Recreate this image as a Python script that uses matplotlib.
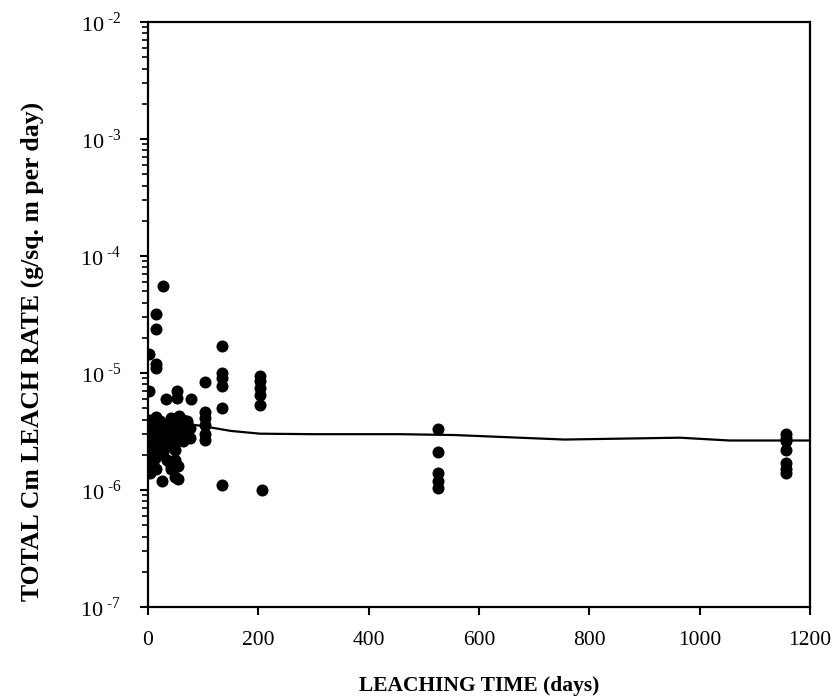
import math
import matplotlib
matplotlib.use("Agg")
import matplotlib.pyplot as plt
from matplotlib.ticker import LogLocator, FixedLocator, NullFormatter, FuncFormatter

plt.rcParams['font.family'] = ['Liberation Serif', 'DejaVu Serif']
plt.rcParams['mathtext.fontset'] = 'custom'
plt.rcParams['mathtext.rm'] = 'Liberation Serif'

# scatter data: leaching time (days) and leach rate (g/sq. m per day)
days = [
    1, 1, 1, 1, 1,
    3, 3, 3,
    7, 7, 7, 7, 9,
    14, 14, 14, 14, 14, 14, 14, 14, 14,
    21, 21, 21, 25,
    27, 28, 28, 28,
    33, 35, 35, 35, 35,
    42, 42, 42, 42, 42,
    49, 49, 49, 49, 49, 52, 52,
    54, 54, 56, 56, 56,
    63, 63, 63,
    70, 70, 70,
    77, 77, 78,
    103, 103, 103, 103, 103, 103,
    134, 134, 134, 134, 134, 134,
    203, 203, 203, 203, 203, 206,
    525, 525, 525, 525, 525,
    1157, 1157, 1157, 1157, 1157, 1157, 1157,
]
rate = [
    2.5e-6, 1.6e-6, 4.0e-6, 1.45e-5, 7.0e-6,
    3.3e-6, 2.0e-6, 1.4e-6,
    3.8e-6, 2.8e-6, 2.2e-6, 1.7e-6, 1.7e-6,
    4.2e-6, 3.5e-6, 2.6e-6, 1.9e-6, 1.5e-6, 3.2e-5, 2.4e-5, 1.2e-5, 1.1e-5,
    3.9e-6, 3.0e-6, 2.4e-6, 1.2e-6,
    5.5e-5, 3.4e-6, 2.7e-6, 2.1e-6,
    6.0e-6, 3.7e-6, 3.1e-6, 2.5e-6, 1.8e-6,
    4.1e-6, 3.2e-6, 2.4e-6, 1.6e-6, 1.5e-6,
    3.6e-6, 2.9e-6, 2.2e-6, 1.8e-6, 1.3e-6, 7.0e-6, 6.1e-6,
    1.6e-6, 1.25e-6, 4.3e-6, 3.5e-6, 2.7e-6,
    4.0e-6, 3.3e-6, 2.6e-6,
    3.9e-6, 3.6e-6, 3.0e-6,
    3.4e-6, 2.8e-6, 6.0e-6,
    8.3e-6, 4.6e-6, 4.1e-6, 3.6e-6, 3.0e-6, 2.7e-6,
    1.7e-5, 1.0e-5, 9.0e-6, 7.8e-6, 5.0e-6, 1.1e-6,
    9.5e-6, 8.5e-6, 7.5e-6, 6.5e-6, 5.3e-6, 1.0e-6,
    3.35e-6, 2.1e-6, 1.4e-6, 1.2e-6, 1.05e-6,
    3.0e-6, 2.8e-6, 2.6e-6, 2.2e-6, 1.7e-6, 1.5e-6, 1.4e-6,
]

# trend line
line_days = [0, 30, 60, 94, 150, 203, 300, 457, 556, 755, 964, 1054, 1200]
line_rate = [3.9e-6, 3.8e-6, 3.7e-6, 3.55e-6, 3.2e-6, 3.03e-6, 3.0e-6, 3.0e-6, 2.95e-6, 2.7e-6, 2.8e-6, 2.65e-6, 2.65e-6]

xticks = [0, 200, 400, 600, 800, 1000, 1200]

fig = plt.figure(figsize=(8.39, 6.99), dpi=100)
ax = fig.add_axes([0.1764, 0.1316, 0.9654 - 0.1764, 0.9685 - 0.1316])

ax.scatter(days, rate, s=75, color='black', zorder=3, linewidths=0)
ax.plot(line_days, line_rate, color='black', lw=1.6, zorder=2)

ax.set_yscale('log')
ax.set_xlim(0, 1200)
ax.set_ylim(1e-7, 1e-2)
ax.xaxis.set_major_locator(FixedLocator(xticks))
ax.yaxis.set_major_locator(LogLocator(base=10, numticks=10))
ax.yaxis.set_minor_locator(LogLocator(base=10, subs=range(2, 10), numticks=20))
ax.yaxis.set_minor_formatter(NullFormatter())

def fmt(v, pos):
    e = int(round(math.log10(v)))
    return r'$10^{\;\text{-}%d}$' % abs(e)
ax.yaxis.set_major_formatter(FuncFormatter(fmt))

for s in ax.spines.values():
    s.set_linewidth(1.6)

ax.tick_params(axis='x', which='major', direction='out', length=6, width=1.5,
               labelsize=15.5, pad=11, top=False)
ax.tick_params(axis='y', which='major', direction='out', length=6, width=1.5,
               labelsize=16, pad=13, right=False)
ax.tick_params(axis='y', which='minor', direction='out', length=4, width=1.2, right=False)

ax.set_xlabel('LEACHING TIME (days)', fontsize=15.5, fontweight='bold', labelpad=19)
ax.set_ylabel('TOTAL Cm LEACH RATE (g/sq. m per day)', fontsize=18.5, fontweight='bold')
ax.yaxis.set_label_coords(-0.157, 0.4376)

fig.savefig('out.png', dpi=100)
